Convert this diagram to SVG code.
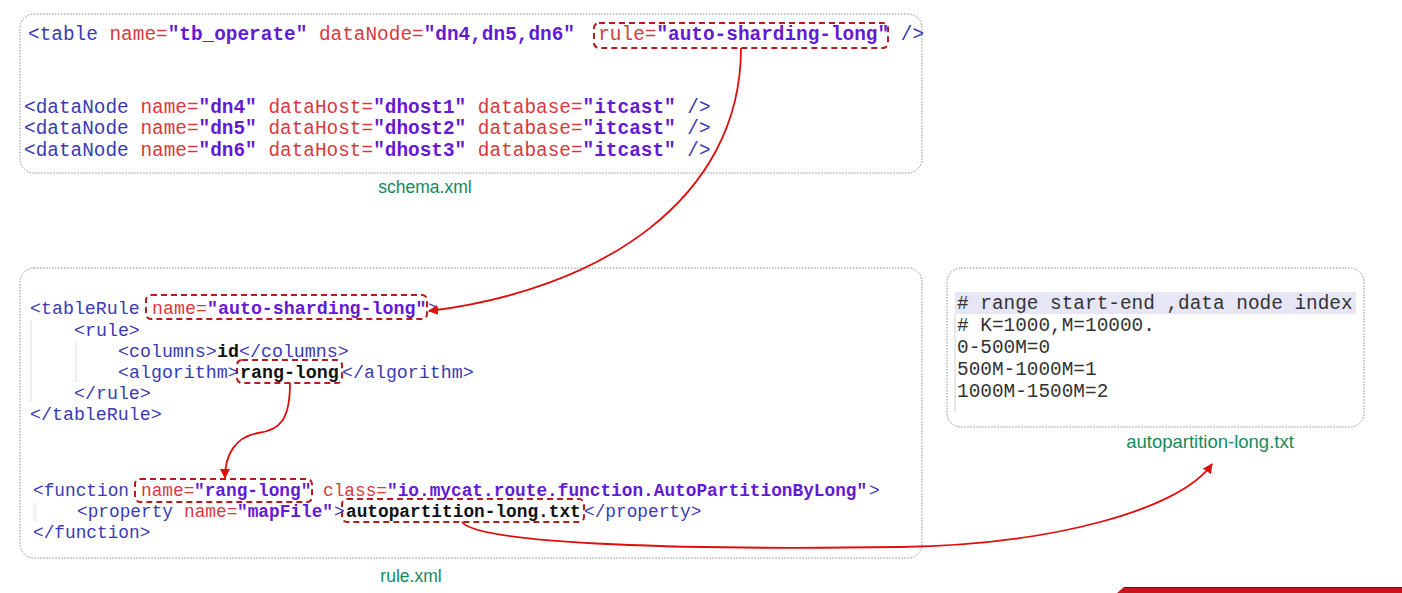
<svg xmlns="http://www.w3.org/2000/svg" width="1402" height="593" viewBox="0 0 1402 593">
<style>
.box{fill:#fff;stroke:#8a8a8a;stroke-width:1;stroke-dasharray:1.5 1.5}
.hl{fill:none;stroke:#b51c1c;stroke-width:2;stroke-dasharray:6 4}
.code{font-family:"Liberation Mono","Courier New",monospace;white-space:pre}
.c1{font-size:19.4px}
.c2{font-size:18.3px}
.c3{font-size:17.8px}
.t{fill:#3a3ab4}
.a{fill:#d8393b}
.v{fill:#6419d4;font-weight:bold}
.k{fill:#111;font-weight:bold}
.txt{fill:#333}
.lbl{font-family:"Liberation Sans",Arial,sans-serif;font-size:17.5px;fill:#138a5c;text-anchor:middle}
.guide{stroke:#c8c8c8;stroke-width:1;stroke-dasharray:1 1}
.conn{fill:none;stroke:#e00d0d;stroke-width:1.8}
</style>
<defs>
<marker id="arr" viewBox="0 0 10 10" refX="9" refY="5" markerWidth="10" markerHeight="10" markerUnits="userSpaceOnUse" orient="auto">
<path d="M0,0 L10,5 L0,10 z" fill="#e00d0d"/>
</marker>
</defs>
<rect width="1402" height="593" fill="#fff"/>

<g id="node-schema">
<rect class="box" x="20" y="14" width="902" height="159" rx="14"/>
<rect class="hl" x="594" y="23" width="294" height="25" rx="5"/>
<text class="code c1" x="28" y="40" xml:space="preserve"><tspan class="t">&lt;table </tspan><tspan class="a">name=</tspan><tspan class="v">"tb_operate"</tspan> <tspan class="a">dataNode=</tspan><tspan class="v">"dn4,dn5,dn6"</tspan>  <tspan class="a">rule=</tspan><tspan class="v">"auto-sharding-long"</tspan> <tspan class="t">/&gt;</tspan></text>
<text class="code c1" x="24" y="113" xml:space="preserve"><tspan class="t">&lt;dataNode </tspan><tspan class="a">name=</tspan><tspan class="v">"dn4"</tspan> <tspan class="a">dataHost=</tspan><tspan class="v">"dhost1"</tspan> <tspan class="a">database=</tspan><tspan class="v">"itcast"</tspan> <tspan class="t">/&gt;</tspan></text>
<text class="code c1" x="24" y="134" xml:space="preserve"><tspan class="t">&lt;dataNode </tspan><tspan class="a">name=</tspan><tspan class="v">"dn5"</tspan> <tspan class="a">dataHost=</tspan><tspan class="v">"dhost2"</tspan> <tspan class="a">database=</tspan><tspan class="v">"itcast"</tspan> <tspan class="t">/&gt;</tspan></text>
<text class="code c1" x="24" y="156" xml:space="preserve"><tspan class="t">&lt;dataNode </tspan><tspan class="a">name=</tspan><tspan class="v">"dn6"</tspan> <tspan class="a">dataHost=</tspan><tspan class="v">"dhost3"</tspan> <tspan class="a">database=</tspan><tspan class="v">"itcast"</tspan> <tspan class="t">/&gt;</tspan></text>
<text class="lbl" x="425" y="193">schema.xml</text>
</g>

<g id="node-rule">
<rect class="box" x="20" y="268" width="902" height="290" rx="14"/>
<line class="guide" x1="31" y1="320" x2="31" y2="402"/>
<line class="guide" x1="76" y1="342" x2="76" y2="382"/>
<line class="guide" x1="35" y1="502" x2="35" y2="522"/>
<rect class="hl" x="146" y="295" width="281" height="24" rx="5"/>
<rect class="hl" x="237" y="360" width="105" height="23" rx="5"/>
<rect class="hl" x="135" y="479" width="177" height="23" rx="5"/>
<rect class="hl" x="342" y="499" width="242" height="23" rx="5"/>
<text class="code c2 t" x="30" y="314">&lt;tableRule</text>
<text class="code c2 a" x="152" y="314">name=</text>
<text class="code c2 v" x="207" y="314">"auto-sharding-long"</text>
<text class="code c2 t" x="428" y="314">&gt;</text>
<text class="code c2 t" x="74" y="336">&lt;rule&gt;</text>
<text class="code c2 t" x="118" y="357">&lt;columns&gt;</text>
<text class="code c2 k" x="217" y="357">id</text>
<text class="code c2 t" x="239" y="357">&lt;/columns&gt;</text>
<text class="code c2 t" x="118" y="378">&lt;algorithm&gt;</text>
<text class="code c2 k" x="240" y="378">rang-long</text>
<text class="code c2 t" x="342" y="378">&lt;/algorithm&gt;</text>
<text class="code c2 t" x="74" y="399">&lt;/rule&gt;</text>
<text class="code c2 t" x="30" y="420">&lt;/tableRule&gt;</text>
<text class="code c3 t" x="33" y="496">&lt;function</text>
<text class="code c3 a" x="141" y="496">name=</text>
<text class="code c3 v" x="194" y="496">"rang-long"</text>
<text class="code c3 a" x="323" y="496">class=</text>
<text class="code c3 v" x="387" y="496">"io.mycat.route.function.AutoPartitionByLong"</text>
<text class="code c3 t" x="869" y="496">&gt;</text>
<text class="code c3 t" x="77" y="517">&lt;property</text>
<text class="code c3 a" x="184" y="517">name=</text>
<text class="code c3 v" x="237" y="517">"mapFile"</text>
<text class="code c3 t" x="334" y="517">&gt;</text>
<text class="code c3 k" x="346" y="517">autopartition-long.txt</text>
<text class="code c3 t" x="584" y="517">&lt;/property&gt;</text>
<text class="code c3 t" x="33" y="538">&lt;/function&gt;</text>
<text class="lbl" x="411" y="582">rule.xml</text>
</g>

<g id="node-txt">
<rect class="box" x="947" y="268" width="417" height="159" rx="14"/>
<rect x="955" y="292" width="401" height="22" fill="#e6e6f6"/>
<line x1="955" y1="314" x2="955" y2="412" stroke="#cfcfcf" stroke-width="1"/>
<text class="code c1 txt" x="957" y="309"># range start-end ,data node index</text>
<text class="code c1 txt" x="957" y="331"># K=1000,M=10000.</text>
<text class="code c1 txt" x="957" y="353">0-500M=0</text>
<text class="code c1 txt" x="957" y="375">500M-1000M=1</text>
<text class="code c1 txt" x="957" y="397">1000M-1500M=2</text>
<text class="lbl" x="1210" y="448" style="font-size:18.5px">autopartition-long.txt</text>
</g>

<g id="connectors">
<path class="conn" d="M741,48 C741,200 600,290 429,311" marker-end="url(#arr)"/>
<path class="conn" d="M290,383 C290,420 280,430 258,433 C235,437 225,455 225,478" marker-end="url(#arr)"/>
<path class="conn" d="M462,522 C480,545 700,550 900,547 C1050,545 1180,510 1212,464" marker-end="url(#arr)"/>
</g>

<g id="banner">
<polygon points="1117,593 1124,587 1402,587 1402,593" fill="#c4161c"/>
<line x1="1124" y1="587.5" x2="1402" y2="587.5" stroke="#7a0a0a" stroke-width="1"/>
</g>
</svg>
